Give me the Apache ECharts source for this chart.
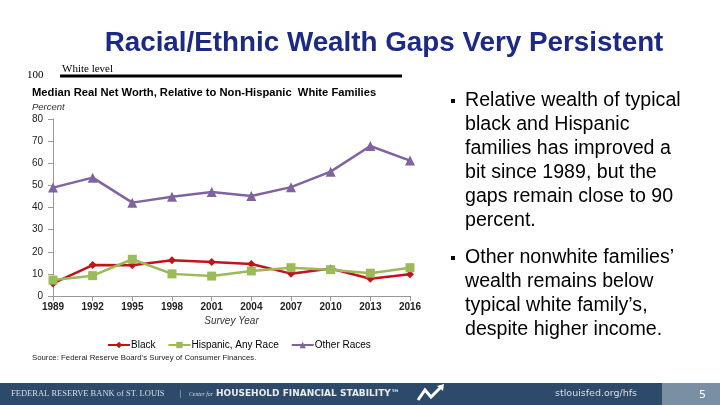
<!DOCTYPE html>
<html><head><meta charset="utf-8">
<script src="https://cdn.jsdelivr.net/npm/echarts@6/dist/echarts.min.js"></script>
<style>html,body{margin:0;padding:0;background:#fff}#c{width:720px;height:405px}</style>
</head><body><div id="c"></div>
<script>
const years = ['1989','1992','1995','1998','2001','2004','2007','2010','2013','2016'];
const black = [5.7, 14.0, 13.9, 16.2, 15.4, 14.5, 10.1, 12.4, 7.8, 9.8];
const hispanic = [7.2, 9.2, 16.6, 10.0, 9.0, 11.3, 12.8, 11.9, 10.3, 12.8];
const otherRaces = [49.0, 53.5, 42.2, 44.9, 47.0, 45.2, 49.2, 56.2, 67.8, 61.2];
const yTicks = [0, 10, 20, 30, 40, 50, 60, 70, 80];
const bullets = [
  ['Relative wealth of typical', 'black and Hispanic', 'families has improved a', 'bit since 1989, but the', 'gaps remain close to 90', 'percent.'],
  ['Other nonwhite families\u2019', 'wealth remains below', 'typical white family\u2019s,', 'despite higher income.']
];

const chart = echarts.init(document.getElementById('c'));
const F = 'Liberation Sans, Arial, sans-serif';
const graphics = [
  {type:'rect', shape:{x:0,y:383,width:720,height:22}, style:{fill:'#2D4A6A'}},
  {type:'rect', shape:{x:662,y:383,width:58,height:22}, style:{fill:'#7B8FA3'}},
  {type:'text', x:11, y:394, style:{text:'FEDERAL RESERVE BANK of ST. LOUIS', font:'8.5px Liberation Serif, serif', fill:'#d8dee6', verticalAlign:'middle'}},
  {type:'text', x:180, y:394, style:{text:'|', font:'8px Liberation Serif, serif', fill:'#d8dee6', verticalAlign:'middle'}},
  {type:'text', x:189, y:394, style:{text:'Center for', font:'italic 5.8px Liberation Serif, serif', fill:'#d8dee6', verticalAlign:'middle'}},
  {type:'text', x:216, y:394, style:{text:'HOUSEHOLD FINANCIAL STABILITY\u2122', font:'bold 9px DejaVu Sans, sans-serif', fill:'#e8ecf0', verticalAlign:'middle'}},
  {type:'polyline', shape:{points:[[418,400],[425,390],[431,397],[442,386]]}, style:{stroke:'#ffffff', lineWidth:3, fill:null}},
  {type:'polygon', shape:{points:[[437,386],[444,384],[443,391]]}, style:{fill:'#ffffff'}},
  {type:'text', x:555, y:394, style:{text:'stlouisfed.org/hfs', font:'9.5px DejaVu Sans, sans-serif', fill:'#d8dee6', verticalAlign:'middle'}},
  {type:'text', x:699, y:395, style:{text:'5', font:'11px DejaVu Sans, sans-serif', fill:'#ffffff', verticalAlign:'middle'}},
  {type:'text', x:384, y:43, style:{text:'Racial/Ethnic Wealth Gaps Very Persistent', font:'bold 27.8px '+F, fill:'#1C2A85', align:'center', verticalAlign:'middle'}},
  {type:'line', shape:{x1:60,y1:76,x2:402,y2:76}, style:{stroke:'#000', lineWidth:3}},
  {type:'text', x:27, y:75, style:{text:'100', font:'11px Liberation Serif, serif', fill:'#000', verticalAlign:'middle'}},
  {type:'text', x:62, y:69, style:{text:'White level', font:'11px Liberation Serif, serif', fill:'#000', verticalAlign:'middle'}},
  {type:'text', x:32, y:93, style:{text:'Median Real Net Worth, Relative to Non-Hispanic  White Families', font:'bold 11.2px '+F, fill:'#000', verticalAlign:'middle'}},
  {type:'text', x:32, y:107, style:{text:'Percent', font:'italic 9.5px '+F, fill:'#333', verticalAlign:'middle'}},
  {type:'text', x:32, y:358, style:{text:'Source: Federal Reserve Board\u2019s Survey of Consumer Finances.', font:'7.8px '+F, fill:'#222', verticalAlign:'middle'}}
];
let by = 101;
bullets.forEach((lines, bi) => {
  graphics.push({type:'rect', shape:{x:451,y:by-2,width:4,height:4}, style:{fill:'#000'}});
  lines.forEach((ln, li) => {
    graphics.push({type:'text', x:465, y:by + li*24, style:{text:ln, font:'19.6px '+F, fill:'#000', verticalAlign:'middle'}});
  });
  by += lines.length*24 + 13;
});

chart.setOption({
  animation:false,
  grid:{left:53, right:310, top:119, bottom:109},
  legend:{
    top:335, left:102, itemGap:12, itemWidth:22, itemHeight:8,
    textStyle:{fontSize:10, fontFamily:F, color:'#000', padding:[0,0,0,-4]},
    data:['Black','Hispanic, Any Race','Other Races']
  },
  xAxis:{
    type:'category', data:years, boundaryGap:false,
    name:'Survey Year', nameLocation:'middle', nameGap:20,
    nameTextStyle:{fontStyle:'italic', fontSize:10, fontFamily:F, color:'#333'},
    axisLine:{lineStyle:{color:'#999'}}, axisTick:{show:true, lineStyle:{color:'#999'}},
    axisLabel:{fontSize:10, fontFamily:F, color:'#222', margin:6, fontWeight:'bold'}
  },
  yAxis:{
    type:'value', min:0, max:80, interval:10,
    axisLine:{show:true, lineStyle:{color:'#999'}}, axisTick:{show:true, lineStyle:{color:'#999'}},
    splitLine:{show:false},
    axisLabel:{fontSize:10, fontFamily:F, color:'#222', margin:10}
  },
  series:[
    {name:'Black', type:'line', data:black, symbol:'diamond', symbolSize:8,
     lineStyle:{color:'#C0141C', width:2.5}, itemStyle:{color:'#C0141C'}},
    {name:'Hispanic, Any Race', type:'line', data:hispanic, symbol:'rect', symbolSize:9,
     lineStyle:{color:'#9BBB59', width:2.5}, itemStyle:{color:'#9BBB59'}},
    {name:'Other Races', type:'line', data:otherRaces, symbol:'triangle', symbolSize:10,
     lineStyle:{color:'#8064A2', width:2.5}, itemStyle:{color:'#8064A2'}}
  ],
  graphic:graphics
});
</script></body></html>
